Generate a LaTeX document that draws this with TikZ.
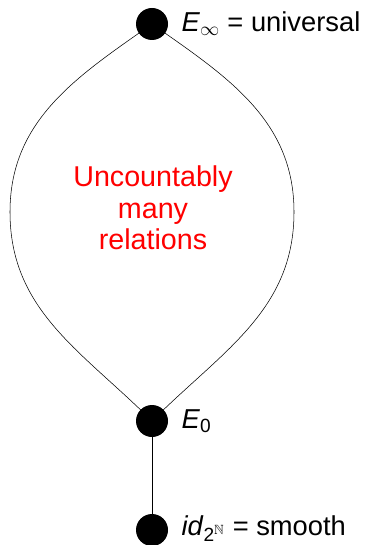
\documentclass[tikz,border=0pt]{standalone}
\usepackage{amssymb}
\usepackage{fontspec}
\setmainfont{Liberation Sans}
\usetikzlibrary{positioning}

\tikzset{
  dot/.style={circle, fill=black, inner sep=0pt, minimum size=24},
  lbl/.style={font=\fontsize{20.5}{24}\selectfont, inner sep=0pt},
  note/.style={font=\fontsize{21.5}{23.6}\selectfont, text=red, align=center}
}

\begin{document}
\begin{tikzpicture}[x=0.75pt, y=-0.75pt]
    \useasboundingbox (0,0) rectangle (370,545);

    % the three levels
    \node (Einf) [dot] at (152,24) {};
    \node (Ezero) [dot] at (152,421) {};
    \node (smooth) [dot] at (152,530) {};

    \node [lbl, right=13 of Einf] {\textit{E}$_\infty$ = universal};
    \node [lbl, right=13 of Ezero] {\textit{E}\textsubscript{0}};
    \node [lbl, right=13 of smooth, yshift=1] {\textit{id}\textsubscript{2$^{\mathbb{N}}$} = smooth};

    % lens between them
    \coordinate (west) at (10,212);
    \coordinate (east) at (294,212);
    \draw (Einf.center) to[out=-145, in=90] (west) to[out=-90, in=135] (Ezero.center);
    \draw (Einf.center) to[out=-35, in=90] (east) to[out=-90, in=45] (Ezero.center);
    \draw (Ezero) -- (smooth);

    \node [note] at (153,208) {Uncountably\\many\\relations};
\end{tikzpicture}
\end{document}
